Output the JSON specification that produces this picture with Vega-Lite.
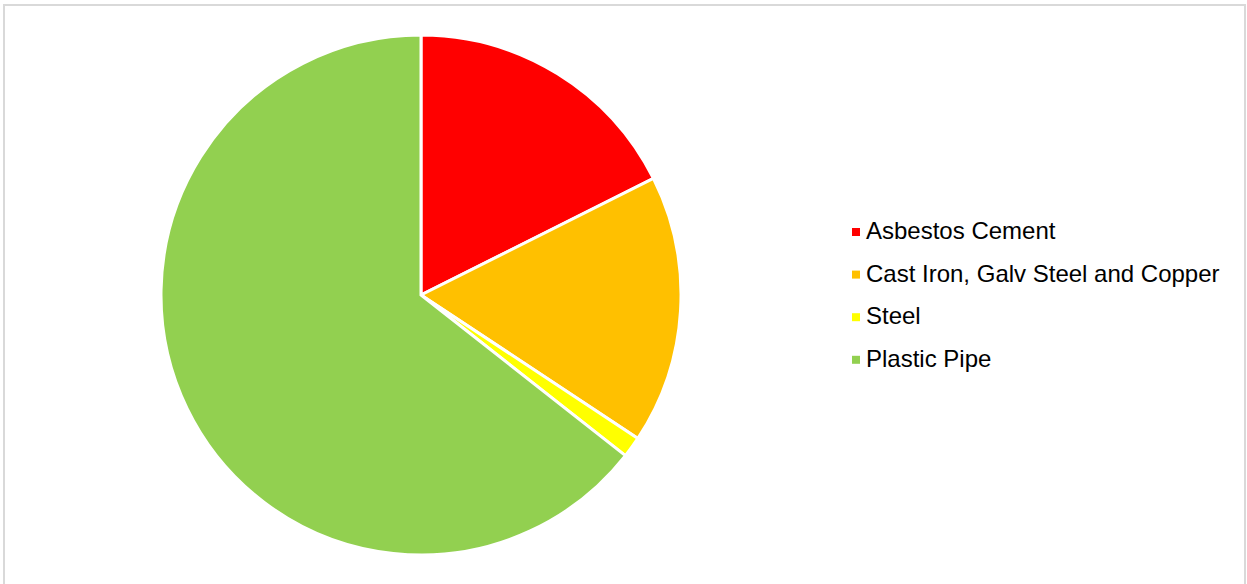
{
  "$schema": "https://vega.github.io/schema/vega-lite/v6.json",
  "width": 1241,
  "height": 590,
  "autosize": "none",
  "padding": {"left": 4, "top": 5, "right": 2, "bottom": 0},
  "background": "white",
  "config": {
    "view": {"stroke": null},
    "font": "Liberation Sans"
  },
  "data": {
    "values": [
      {"material": "Asbestos Cement", "share": 17.6, "order": 1},
      {"material": "Cast Iron, Galv Steel and Copper", "share": 16.7, "order": 2},
      {"material": "Steel", "share": 1.3, "order": 3},
      {"material": "Plastic Pipe", "share": 64.4, "order": 4}
    ]
  },
  "layer": [
    {
      "mark": {
        "type": "rect",
        "x": 0,
        "y": 0,
        "x2": {"expr": "width"},
        "y2": {"expr": "height"},
        "fill": null,
        "fillOpacity": 0,
        "stroke": "#d9d9d9",
        "strokeWidth": 1.5
      },
      "encoding": {}
    },
    {
      "mark": {"type": "arc", "radius": 260, "x": 417, "y": 290, "stroke": "white", "strokeWidth": 3},
      "encoding": {
        "theta": {"field": "share", "type": "quantitative", "stack": true},
        "order": {"field": "order", "type": "quantitative"},
        "color": {
          "field": "material",
          "type": "nominal",
          "sort": ["Asbestos Cement", "Cast Iron, Galv Steel and Copper", "Steel", "Plastic Pipe"],
          "scale": {
            "domain": ["Asbestos Cement", "Cast Iron, Galv Steel and Copper", "Steel", "Plastic Pipe"],
            "range": ["#ff0000", "#ffc000", "#ffff00", "#92d050"]
          },
          "legend": {
            "title": null,
            "orient": "none",
            "legendX": 840,
            "legendY": 215,
            "padding": 0,
            "symbolType": "square",
            "symbolSize": 64,
            "symbolStrokeWidth": 0,
            "labelFont": "Liberation Sans",
            "labelFontSize": 24,
            "labelColor": "#000000",
            "labelOffset": -2,
            "rowPadding": 18.6,
            "labelLimit": 500
          }
        }
      }
    }
  ]
}
